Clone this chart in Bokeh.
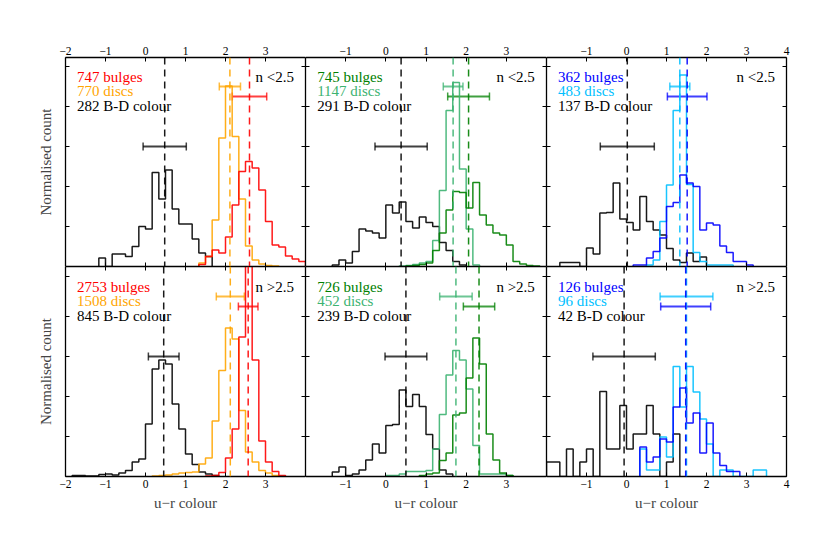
import numpy as np
from bokeh.plotting import figure
from bokeh.models import LinearAxis, FixedTicker, Span, Whisker, TeeHead, ColumnDataSource
from bokeh.layouts import row, column
from bokeh.embed import file_html
from bokeh.resources import INLINE
from bokeh.core.properties import value

# ---------------- data ----------------
BIN = 1.0 / 6.0   # histogram bin width in u-r colour

# panel a: n<2.5, first column
a_bd_k0 = -7
a_bd = [0.042, 0.0, 0.063, 0.063, 0.05, 0.10, 0.20, 0.188, 0.47, 0.338, 0.483, 0.287, 0.213, 0.213, 0.137, 0.067, 0.05]
a_disc_k0 = 8
a_disc = [0.017, 0.05, 0.233, 0.642, 0.903, 0.65, 0.337, 0.103, 0.033, 0.012, 0.005, 0.003]
a_bulge_k0 = 8
a_bulge = [0.01, 0.05, 0.083, 0.067, 0.147, 0.308, 0.475, 0.525, 0.492, 0.383, 0.225, 0.108, 0.097, 0.053, 0.037, 0.025]
a_med = [0.48, 2.11, 2.60]
a_sig = [0.54, 0.265, 0.43]
a_counts = [282, 770, 747]

# panel b: n<2.5, second column
b_bd_k0 = -8
b_bd = [0.008, 0.033, 0.017, 0.075, 0.187, 0.178, 0.167, 0.142, 0.308, 0.267, 0.322, 0.225, 0.192, 0.247, 0.22, 0.2, 0.12, 0.08, 0.025, 0.008]
b_disc_k0 = 2
b_disc = [0.003, 0.005, 0.01, 0.017, 0.025, 0.13, 0.38, 0.78, 0.92, 0.487, 0.187, 0.008]
b_bulge_k0 = 3
b_bulge = [0.003, 0.005, 0.01, 0.017, 0.08, 0.167, 0.283, 0.375, 0.37, 0.292, 0.42, 0.258, 0.208, 0.167, 0.158, 0.108, 0.025, 0.013, 0.005, 0.003]
b_med = [0.38, 1.675, 2.06]
b_sig = [0.65, 0.245, 0.52]
b_counts = [291, 1147, 745]

# panel c: n<2.5, third column
c_bd_k0 = -10
c_bd = [0.02, 0.02, 0.02, 0.0, 0.092, 0.063, 0.267, 0.27, 0.417, 0.237, 0.22, 0.183, 0.35, 0.225, 0.183, 0.158, 0.09, 0.033, 0.02, 0.067, 0.025, 0.047]
c_disc_k0 = 3
c_disc = [0.008, 0.033, 0.225, 0.408, 0.78, 0.958, 0.41, 0.07, 0.025, 0.008, 0.008, 0.008, 0.008]
c_bulge_k0 = 1
c_bulge = [0.008, 0.008, 0.042, 0.075, 0.142, 0.3, 0.32, 0.458, 0.417, 0.4, 0.183, 0.217, 0.208, 0.103, 0.07, 0.025, 0.025, 0.008]
c_med = [0.02, 1.333, 1.517]
c_sig = [0.675, 0.25, 0.495]
c_counts = [137, 483, 362]

# panel d: n>2.5, first column
d_bd_k0 = -11
d_bd = [0.005, 0.005, 0.003, 0.003, 0.01, 0.013, 0.008, 0.017, 0.03, 0.072, 0.088, 0.263, 0.538, 0.583, 0.563, 0.363, 0.238, 0.113, 0.06, 0.022, 0.013, 0.005]
d_disc_k0 = 1
d_disc = [0.003, 0.005, 0.008, 0.013, 0.017, 0.02, 0.022, 0.063, 0.093, 0.277, 0.53, 0.742, 0.688, 0.33, 0.122, 0.072, 0.03, 0.017, 0.005]
d_bulge_k0 = 9
d_bulge = [0.003, 0.005, 0.02, 0.093, 0.238, 0.697, 1.3, 0.583, 0.177, 0.072, 0.025, 0.005]
d_med = [0.455, 2.12, 2.567]
d_sig = [0.383, 0.35, 0.245]
d_counts = [845, 1508, 2753]

# panel e: n>2.5, second column
e_bd_k0 = -8
e_bd = [0.022, 0.047, 0.005, 0.013, 0.033, 0.083, 0.163, 0.117, 0.255, 0.26, 0.433, 0.35, 0.41, 0.35, 0.21, 0.138, 0.033, 0.013]
e_disc_k0 = 0
e_disc = [0.005, 0.005, 0.013, 0.025, 0.025, 0.025, 0.03, 0.138, 0.31, 0.508, 0.63, 0.583, 0.438, 0.155, 0.013, 0.013, 0.013, 0.013, 0.005]
e_bulge_k0 = 5
e_bulge = [0.005, 0.013, 0.018, 0.08, 0.118, 0.308, 0.317, 0.493, 0.693, 0.563, 0.213, 0.083, 0.017, 0.005]
e_med = [0.5, 1.745, 2.32]
e_sig = [0.52, 0.404, 0.39]
e_counts = [239, 452, 726]

# panel f: n>2.5, third column
f_bd_k0 = -12
f_bd = [0.072, 0.072, 0.0, 0.138, 0.0, 0.072, 0.138, 0.0, 0.425, 0.138, 0.138, 0.355, 0.138, 0.213, 0.213, 0.355, 0.213, 0.0, 0.072, 0.213]
f_disc_k0 = 2
f_disc = [0.138, 0.033, 0.033, 0.197, 0.097, 0.55, 0.347, 0.55, 0.422, 0.288, 0.163, 0.0, 0.033, 0.033, 0.0, 0.0, 0.0, 0.033, 0.033]
f_bulge_k0 = 2
f_bulge = [0.147, 0.072, 0.097, 0.188, 0.172, 0.347, 0.442, 0.267, 0.317, 0.117, 0.267, 0.117, 0.055, 0.025, 0.025]
f_med = [-0.06, 1.50, 1.48]
f_sig = [0.78, 0.66, 0.625]
f_counts = [42, 96, 126]

cut_labels = ["n <2.5", "n >2.5"]
x_ticks = [-2, -1, 0, 1, 2, 3, 4]
x_tick_text = ["\u22122", "\u22121", "0", "1", "2", "3", "4"]
col_shown_ticks = [[-2, -1, 0, 1, 2, 3], [-1, 0, 1, 2, 3], [-1, 0, 1, 2, 3, 4]]
y_ticks = [0, 0.2, 0.4, 0.6, 0.8, 1.0]

bulge_colors = ["#ff0000", "#ffa500"], ["#008000", "#3cb371"], ["#0000ff", "#00bfff"]

# ---------------- drawing ----------------
FONT = "Liberation Serif"
FRAME_W = [240, 241, 240]
FRAME_H = [209, 210]
ERR_Y = [0.6, 0.9, 0.85]


def hist_path(k0, vals):
    vals = np.asarray(vals, dtype=float)
    edges = (k0 + np.arange(len(vals) + 1)) * BIN
    xs = np.repeat(edges, 2)
    ys = np.concatenate([[0.0], np.repeat(vals, 2), [0.0]])
    return xs, ys


def style_axis(ax, ticks):
    ax.ticker = FixedTicker(ticks=ticks, minor_ticks=[])
    ax.major_tick_in = 4
    ax.major_tick_out = 0
    ax.minor_tick_in = 0
    ax.minor_tick_out = 0
    ax.axis_line_width = 1.3
    ax.axis_line_color = "black"
    ax.major_tick_line_width = 1
    ax.major_tick_line_color = "black"
    ax.major_label_text_font = FONT
    ax.major_label_text_font_size = "11.5px"
    ax.major_label_text_color = "black"
    ax.major_label_standoff = 3


def make_panel(ci, ri, hists, med, sig, counts):
    bulge_c, disc_c = bulge_colors[ci]
    fw, fh = FRAME_W[ci], FRAME_H[ri]
    ml = 65 if ci == 0 else 0
    mr = 12 if ci == 2 else 0
    mt = 57 if ri == 0 else 0
    mb = 44 if ri == 1 else 0
    p = figure(width=fw + ml + mr, height=fh + mt + mb,
               x_range=(-2, 4), y_range=(0, fh / 200.0),
               min_border_left=ml, min_border_right=mr,
               min_border_top=mt, min_border_bottom=mb,
               x_axis_location=None, y_axis_location=None,
               output_backend="svg", toolbar_location=None)
    p.grid.visible = False
    p.outline_line_color = None
    p.background_fill_color = "white"
    p.border_fill_color = "white"

    for loc in ("below", "above"):
        ax = LinearAxis()
        style_axis(ax, x_ticks)
        show = (loc == "above" and ri == 0) or (loc == "below" and ri == 1)
        if show:
            ax.major_label_overrides = {t: (lab if t in col_shown_ticks[ci] else "")
                                        for t, lab in zip(x_ticks, x_tick_text)}
        else:
            ax.major_label_text_color = None
        if loc == "below" and ri == 1:
            ax.axis_label = "u\u2212r colour"
            ax.axis_label_text_font = FONT
            ax.axis_label_text_font_style = "normal"
            ax.axis_label_text_font_size = "15px"
            ax.axis_label_standoff = 4
        p.add_layout(ax, loc)
    for loc in ("left", "right"):
        ax = LinearAxis()
        style_axis(ax, y_ticks)
        ax.major_label_text_color = None
        if loc == "left" and ci == 0:
            ax.axis_label = "Normalised count"
            ax.axis_label_text_font = FONT
            ax.axis_label_text_font_style = "normal"
            ax.axis_label_text_font_size = "15px"
            ax.axis_label_standoff = 12
        p.add_layout(ax, loc)

    colors = ["black", disc_c, bulge_c]
    for (k0, vals), c in zip(hists, colors):
        xs, ys = hist_path(k0, vals)
        p.line(xs, ys, line_color=c, line_width=1.5, line_alpha=0.9)

    for m, s, c, ey in zip(med, sig, colors, ERR_Y):
        p.add_layout(Span(location=m, dimension="height", line_color=c,
                          line_dash="7 5", line_width=1.5, line_alpha=0.9))
        src = ColumnDataSource(dict(y=[ey], lo=[m - s], hi=[m + s]))
        w = Whisker(source=src, base="y", lower="lo", upper="hi", dimension="width",
                    line_color=c, line_width=2, line_alpha=0.75,
                    lower_head=TeeHead(size=8, line_color=c, line_width=1.5, line_alpha=0.75),
                    upper_head=TeeHead(size=8, line_color=c, line_width=1.5, line_alpha=0.75))
        p.add_layout(w)

    tsrc = ColumnDataSource(dict(
        x=[-1.71, -1.71, -1.71],
        y=[0.95, 0.877, 0.805],
        t=[f"{counts[2]} bulges", f"{counts[1]} discs", f"{counts[0]} B-D colour"],
        c=[bulge_c, disc_c, "black"]))
    p.text(x="x", y="y", text="t", text_color="c", source=tsrc,
           text_font=value(FONT), text_font_size="15px", text_baseline="alphabetic")
    p.text(x=[3.71], y=[0.95], text=[cut_labels[ri]], text_color="black",
           text_font=value(FONT), text_font_size="15px", text_baseline="alphabetic",
           text_align="right")
    return p


panels = [
    (0, 0, [(a_bd_k0, a_bd), (a_disc_k0, a_disc), (a_bulge_k0, a_bulge)], a_med, a_sig, a_counts),
    (1, 0, [(b_bd_k0, b_bd), (b_disc_k0, b_disc), (b_bulge_k0, b_bulge)], b_med, b_sig, b_counts),
    (2, 0, [(c_bd_k0, c_bd), (c_disc_k0, c_disc), (c_bulge_k0, c_bulge)], c_med, c_sig, c_counts),
    (0, 1, [(d_bd_k0, d_bd), (d_disc_k0, d_disc), (d_bulge_k0, d_bulge)], d_med, d_sig, d_counts),
    (1, 1, [(e_bd_k0, e_bd), (e_disc_k0, e_disc), (e_bulge_k0, e_bulge)], e_med, e_sig, e_counts),
    (2, 1, [(f_bd_k0, f_bd), (f_disc_k0, f_disc), (f_bulge_k0, f_bulge)], f_med, f_sig, f_counts),
]
figs = [make_panel(*args) for args in panels]
layout = column(row(*figs[:3]), row(*figs[3:]))

open("out.html", "w").write(file_html(layout, INLINE))
